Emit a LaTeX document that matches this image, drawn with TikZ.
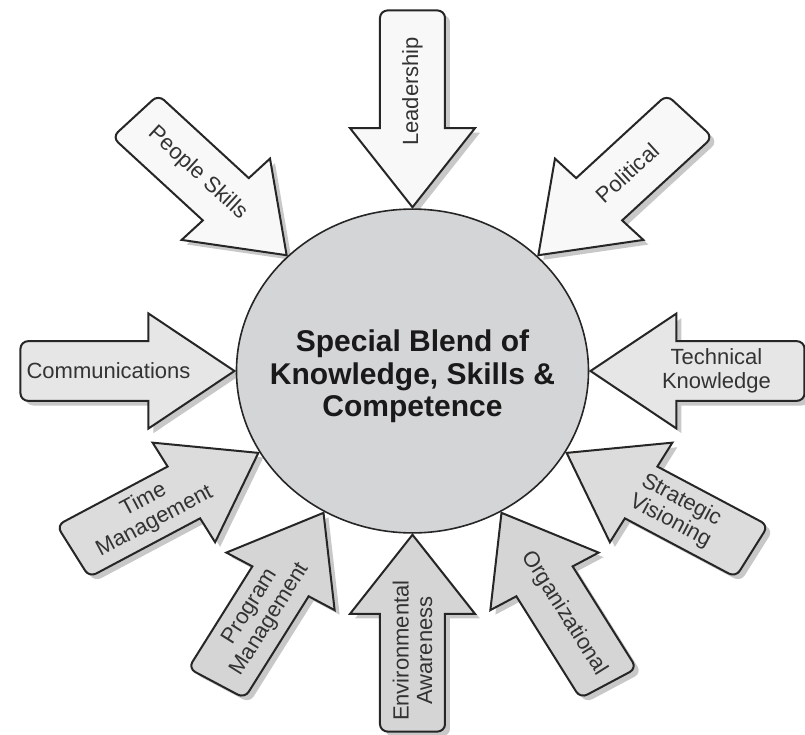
\documentclass[tikz,border=0pt]{standalone}
\usepackage{fontspec}
\setmainfont{Liberation Sans}
\usepackage{tikz}

\definecolor{blendgray}{HTML}{D4D5D7}
\definecolor{shadowgray}{HTML}{C8C8C8}
\definecolor{arrowtop}{HTML}{F8F8F8}
\definecolor{arrowmid}{HTML}{E6E6E6}
\definecolor{arrowlow}{HTML}{DCDCDC}
\definecolor{arrowbase}{HTML}{D5D5D5}

\tikzset{
	skillarrow/.style={draw=black!85, line width=1pt, line join=miter},
	skilltext/.style={font=\fontsize{11}{11.8}\selectfont, text=black!80, align=center},
	blendtext/.style={font=\fontsize{15}{16.3}\selectfont\bfseries, text=black!90, align=center}
}

\begin{document}
\begin{tikzpicture}[x=0.5pt, y=0.5pt]
	\useasboundingbox (-412.5,-364) rectangle (392.5,371);
	\begin{scope}[yscale=0.92]
	% ten arrows, tip on the rim, pointing in
	\foreach \pos/\tang/\shade/\name/\txt in {
		90/90/arrowtop/lead/Leadership,
		45/42.6/arrowtop/poli/Political,
		135/-42.6/arrowtop/people/{People Skills},
		0/0/arrowmid/tech/{Technical\\Knowledge},
		180/0/arrowmid/comm/Communications,
		-30/-28/arrowlow/strat/{Strategic\\Visioning},
		-150/28/arrowlow/time/{Time\\Management},
		-60/-57.9/arrowbase/org/Organizational,
		-120/57.9/arrowbase/prog/{Program\\Management},
		-90/90/arrowbase/env/{Environmental\\Awareness}}
	{
		\fill[shadowgray, shift={(\pos:178)}, shift={(5,-5)}, rotate=\pos+180]
			(0,0) -- (-86,62.5) -- (-86,32.5) -- (-206,32.5) arc[start angle=90, end angle=180, radius=8]
			-- (-214,-24.5) arc[start angle=180, end angle=270, radius=8] -- (-86,-32.5) -- (-86,-62.5) -- cycle;
		\filldraw[skillarrow, fill=\shade, shift={(\pos:178)}, rotate=\pos+180]
			(0,0) -- (-86,62.5) -- (-86,32.5) -- (-206,32.5) arc[start angle=90, end angle=180, radius=8]
			-- (-214,-24.5) arc[start angle=180, end angle=270, radius=8] -- (-86,-32.5) -- (-86,-62.5) -- cycle
			(-126,0) node[skilltext, rotate=\tang] (\name) {\txt};
	}

	\filldraw[fill=blendgray, draw=black!85, line width=0.8pt] (0,0) circle[radius=176];
	\node[blendtext] (blend) at (0,-6) {Special Blend of\\Knowledge, Skills \&\\Competence};
	\end{scope}
\end{tikzpicture}
\end{document}
